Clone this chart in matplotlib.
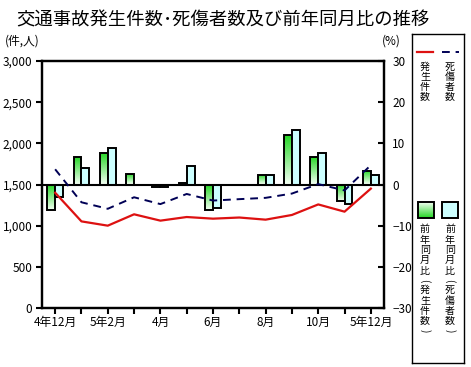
import numpy as np
import matplotlib
matplotlib.use("Agg")
from matplotlib import pyplot as plt
from matplotlib.colors import LinearSegmentedColormap
from matplotlib.patches import Rectangle

plt.rcParams['font.family'] = ['Noto Sans CJK JP', 'DejaVu Sans']

# data
months = ['4年12月', '1月', '5年2月', '3月', '4月', '5月', '6月', '7月', '8月', '9月', '10月', '11月', '5年12月']
tick_labels = ['4年12月', '', '5年2月', '', '4月', '', '6月', '', '8月', '', '10月', '', '5年12月']
accidents = [1400, 1052, 1000, 1138, 1061, 1105, 1085, 1099, 1073, 1130, 1258, 1170, 1450]
casualties = [1685, 1284, 1205, 1345, 1262, 1385, 1305, 1322, 1338, 1390, 1505, 1428, 1735]
acc_yoy = [-6.1, 6.7, 7.6, 2.6, -0.5, 0.3, -6.3, 0.0, 2.4, 12.1, 6.7, -3.9, 3.4]
cas_yoy = [-3.0, 3.9, 8.9, 0.0, -0.5, 4.6, -5.7, 0.0, 2.4, 13.3, 7.7, -4.8, 2.4]

green_cmap = LinearSegmentedColormap.from_list('g', ['#22d622', '#f2fff2'])
cyan = '#ccffff'
red = '#dd1111'
navy = '#000055'

W, H = 471, 367
fig = plt.figure(figsize=(W / 100, H / 100), dpi=100)
ax = fig.add_axes([42 / W, 1 - 308 / H, (384 - 42) / W, (308 - 61) / H])
ax2 = ax.twinx()

x = np.arange(len(months))
bw = 0.3
gbars = ax2.bar(x - bw / 2, acc_yoy, bw, facecolor='none', edgecolor='black', linewidth=1.4, zorder=3)
cbars = ax2.bar(x + bw / 2, cas_yoy, bw, facecolor=cyan, edgecolor='black', linewidth=1.4, zorder=3)

# vertical gradient fill for the green bars
grad = np.linspace(0, 1, 64).reshape(-1, 1)
for b in gbars:
    x0, y0 = b.get_x(), b.get_y()
    x1, y1 = x0 + b.get_width(), y0 + b.get_height()
    lo, hi = min(y0, y1), max(y0, y1)
    if hi - lo <= 0:
        continue
    im = ax2.imshow(grad, extent=[x0, x1, lo, hi], aspect='auto', cmap=green_cmap,
                    origin='upper', zorder=2, interpolation='bilinear')
    im.set_clip_path(b)

ax2.axhline(0, color='black', linewidth=1.5, zorder=4)

ax.plot(x, accidents, color=red, linewidth=1.6, zorder=5)
ax.plot(x, casualties, color=navy, linewidth=1.4, dashes=(4, 3), zorder=5)

ax.set_zorder(ax2.get_zorder() + 1)
ax.patch.set_visible(False)

ax.set_xlim(-0.5, len(months) - 0.5)
ax.set_ylim(0, 3000)
ax2.set_ylim(-30, 30)

ax.set_yticks(np.arange(0, 3001, 500))
ax.set_yticklabels([f'{v:,}' for v in range(0, 3001, 500)])
ax2.set_yticks(np.arange(-30, 31, 10))
ax.set_xticks(x)
ax.set_xticklabels(tick_labels)

ax.tick_params(axis='y', direction='out', length=4, width=1.5, labelsize=8.5, pad=3, colors='black')
ax.tick_params(axis='x', direction='out', length=4, width=1.5, labelsize=8.5, pad=2)
ax2.tick_params(axis='y', direction='in', length=4, width=1.5, labelsize=8.5, pad=6)
for a in (ax, ax2):
    for s in a.spines.values():
        s.set_linewidth(1.6)

fig.text(223 / W, 1 - 20 / H, '交通事故発生件数･死傷者数及び前年同月比の推移',
         ha='center', va='center', fontsize=13.2)
fig.text(5 / W, 1 - 41 / H, '(件,人)', ha='left', va='center', fontsize=8.5)
fig.text(391 / W, 1 - 41 / H, '(%)', ha='center', va='center', fontsize=8.5)

# legend box drawn in pixel coordinates
lg = fig.add_axes([412 / W, 1 - 363 / H, (464 - 412) / W, (363 - 34) / H])
lg.set_xticks([])
lg.set_yticks([])
for s in lg.spines.values():
    s.set_linewidth(1.0)
lg.plot([417, 433], [52, 52], color=red, linewidth=1.6)
lg.plot([442, 459], [52, 52], color=navy, linewidth=1.4, dashes=(4, 3))
lg.add_patch(Rectangle((417.5, 202), 16, 16, facecolor='none', edgecolor='black', linewidth=1.4, zorder=3))
lg.imshow(grad, extent=[417.5, 433.5, 218, 202], aspect='auto', cmap=green_cmap, origin='lower', zorder=2)
lg.add_patch(Rectangle((442, 202), 16, 16, facecolor=cyan, edgecolor='black', linewidth=1.4, zorder=3))
lg.set_xlim(412, 464)
lg.set_ylim(363, 34)


def vtext(xc, ytop, s, step=10.0, pstep=9.0):
    # stack characters top to bottom, parentheses turned sideways
    y = ytop
    for ch in s:
        if ch in '()':
            lg.text(xc, y + pstep / 2, ch, ha='center', va='center', fontsize=7.2, rotation=-90)
            y += pstep
        else:
            lg.text(xc, y + step / 2, ch, ha='center', va='center', fontsize=7.2)
            y += step


vtext(425, 62, '発生件数', step=10.0)
vtext(450, 62, '死傷者数', step=10.0)
vtext(425, 224, '前年同月比(発生件数)', step=10.4)
vtext(450, 224, '前年同月比(死傷者数)', step=10.4)

fig.savefig('out.png', dpi=100)
